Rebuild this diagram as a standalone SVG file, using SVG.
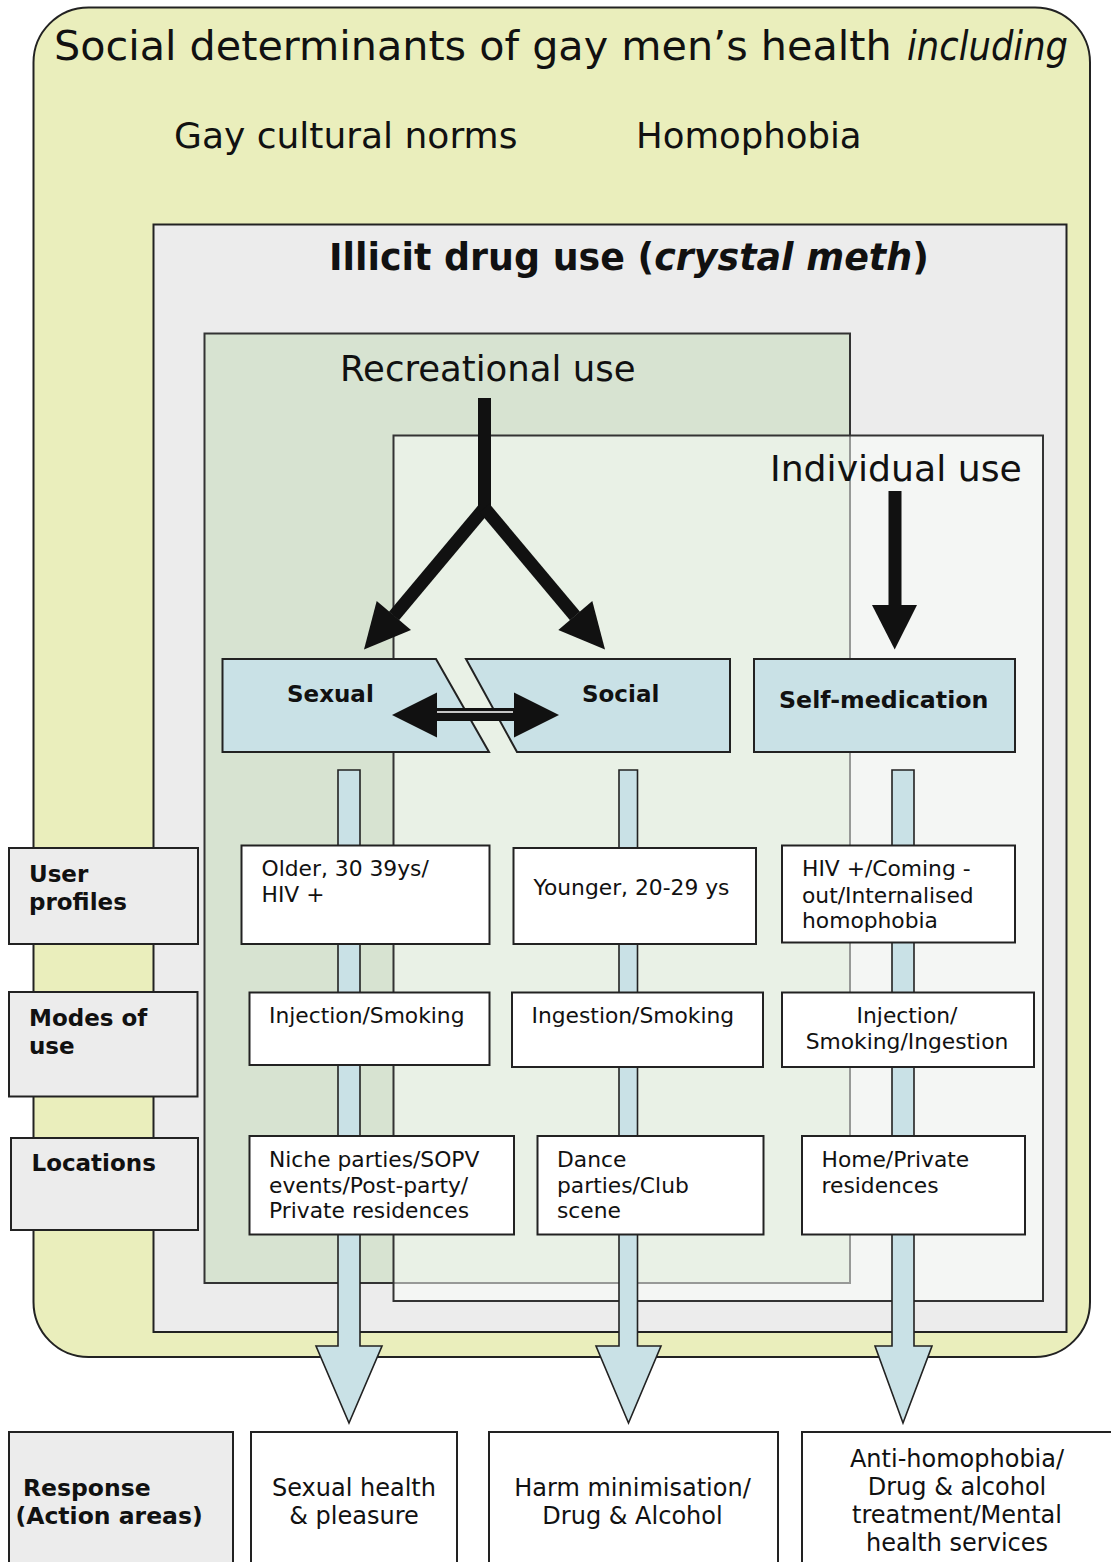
<svg xmlns="http://www.w3.org/2000/svg" width="1111" height="1562" viewBox="0 0 1111 1562">
<style>
text{font-family:"DejaVu Sans",Verdana,sans-serif;fill:#111}
.big{font-size:35.5px}
.lbl{font-size:23px;font-weight:bold}
.box{font-size:21.8px}
.resp{font-size:24px}
.wb{fill:#fff;stroke:#222;stroke-width:2}
.gb{fill:#ececec;stroke:#222;stroke-width:2}
.bb{fill:#c9e1e6;stroke:#222;stroke-width:2}
.flow{fill:#c9e1e6;stroke:#222;stroke-width:1.6;stroke-linejoin:miter}
.blk{fill:#111}
</style>
<rect width="1111" height="1562" fill="#fff"/>
<g id="social-determinants">
<rect x="33.5" y="7.5" width="1056.5" height="1349.5" rx="55" ry="55" fill="#eaeebc" stroke="#222" stroke-width="2"/>
<text x="54" y="60" style="font-size:41.3px">Social determinants of gay men’s health</text>
<text x="907" y="60" style="font-size:41px;font-style:italic" textLength="161" lengthAdjust="spacingAndGlyphs">including</text>
<text x="174" y="148" style="font-size:36px">Gay cultural norms</text>
<text x="636" y="148" style="font-size:35.5px">Homophobia</text>
</g>
<g id="illicit-drug-use">
<rect x="153.5" y="224.5" width="913" height="1107.5" fill="#ececec" stroke="#222" stroke-width="2"/>
<text x="329" y="270" style="font-size:36.4px;font-weight:bold">Illicit drug use (<tspan font-style="italic">crystal meth</tspan>)</text>
</g>
<g id="recreational-use">
<rect x="204.5" y="333.5" width="645.5" height="949.5" fill="#d7e3d1" stroke="#333" stroke-width="2"/>
<text x="340" y="381" class="big">Recreational use</text>
</g>
<g id="individual-use">
<rect x="393.5" y="435.5" width="649.5" height="865.5" fill="#fcfffc" fill-opacity="0.5" stroke="#333" stroke-width="2"/>
<text x="770" y="481" style="font-size:36.2px">Individual use</text>
</g>
<g id="connectors">
<polygon class="flow" points="338,770 360,770 360,1346 382,1346 349,1423 316,1346 338,1346"/>
<polygon class="flow" points="619,770 637.5,770 637.5,1346 661,1346 628.5,1423 596,1346 619,1346"/>
<polygon class="flow" points="892,770 914,770 914,1346 932,1346 903,1423 875,1346 892,1346"/>
<rect class="blk" x="478" y="398" width="13" height="114"/>
<line x1="484.5" y1="508" x2="394" y2="616" stroke="#111" stroke-width="13"/>
<line x1="484.5" y1="508" x2="575" y2="616" stroke="#111" stroke-width="13"/>
<polygon class="blk" points="364,649.5 376.7,601 411,630"/>
<polygon class="blk" points="605,649.5 592.3,601 558.3,630"/>
<rect class="blk" x="888.5" y="491" width="13" height="116"/>
<polygon class="blk" points="872,605 917,605 894.7,649.5"/>
</g>
<g id="sexual">
<polygon class="bb" points="222.5,659 436,659 489,752 222.5,752"/>
<text x="287" y="702" class="lbl">Sexual</text>
</g>
<g id="social">
<polygon class="bb" points="466,659 730,659 730,752 517,752"/>
<text x="582" y="702" class="lbl">Social</text>
</g>
<g id="double-arrow">
<rect class="blk" x="436" y="708" width="78" height="13"/>
<line x1="437" y1="712" x2="513" y2="712" stroke="#fff" stroke-width="1.6"/>
<polygon class="blk" points="392,715 437,692.5 437,737.5"/>
<polygon class="blk" points="559,715 514,692.5 514,737.5"/>
</g>
<g id="self-medication">
<rect class="bb" x="754" y="659" width="261" height="93"/>
<text x="779" y="708" class="lbl" style="font-size:23.7px">Self-medication</text>
</g>
<g id="user-profiles">
<rect class="gb" x="9" y="848" width="189" height="96"/>
<text x="29" y="882" class="lbl">User</text>
<text x="29" y="910" class="lbl">profiles</text>
</g>
<g id="modes-of-use">
<rect class="gb" x="9" y="992" width="188.5" height="104.5"/>
<text x="29" y="1026" class="lbl">Modes of</text>
<text x="29" y="1054" class="lbl">use</text>
</g>
<g id="locations">
<rect class="gb" x="11" y="1138" width="187" height="92"/>
<text x="31.5" y="1171" class="lbl">Locations</text>
</g>
<g id="older">
<rect class="wb" x="241.5" y="845.5" width="248" height="98.5"/>
<text x="261.5" y="876" class="box">Older, 30 39ys/</text>
<text x="261.5" y="902" class="box">HIV +</text>
</g>
<g id="younger">
<rect class="wb" x="513.5" y="848" width="242.5" height="96"/>
<text x="533.5" y="895" class="box">Younger, 20-29 ys</text>
</g>
<g id="hiv-coming-out">
<rect class="wb" x="782" y="845.5" width="233" height="97"/>
<text x="802" y="876" class="box">HIV +/Coming -</text>
<text x="802" y="902.5" class="box">out/Internalised</text>
<text x="802" y="928" class="box">homophobia</text>
</g>
<g id="injection-smoking">
<rect class="wb" x="249.5" y="992.5" width="240" height="72.5"/>
<text x="269" y="1023" class="box">Injection/Smoking</text>
</g>
<g id="ingestion-smoking">
<rect class="wb" x="512" y="992.5" width="251" height="74.5"/>
<text x="531.5" y="1023" class="box">Ingestion/Smoking</text>
</g>
<g id="injection-smoking-ingestion">
<rect class="wb" x="782" y="992.5" width="252" height="74.5"/>
<text x="907" y="1023" class="box" text-anchor="middle">Injection/</text>
<text x="907" y="1049" class="box" text-anchor="middle">Smoking/Ingestion</text>
</g>
<g id="niche-parties">
<rect class="wb" x="249.5" y="1136" width="264.5" height="98.5"/>
<text x="269" y="1166.5" class="box">Niche parties/SOPV</text>
<text x="269" y="1192.5" class="box">events/Post-party/</text>
<text x="269" y="1218" class="box">Private residences</text>
</g>
<g id="dance-parties">
<rect class="wb" x="537.5" y="1136" width="226" height="98.5"/>
<text x="557" y="1166.5" class="box">Dance</text>
<text x="557" y="1192.5" class="box">parties/Club</text>
<text x="557" y="1218" class="box">scene</text>
</g>
<g id="home-private">
<rect class="wb" x="802" y="1136" width="223" height="98.5"/>
<text x="821.5" y="1166.5" class="box">Home/Private</text>
<text x="821.5" y="1192.5" class="box">residences</text>
</g>
<g id="response">
<rect class="gb" x="9" y="1432" width="224" height="150"/>
<text x="23" y="1496" class="lbl" style="font-size:23.5px">Response</text>
<text x="15.5" y="1524" class="lbl" style="font-size:23.5px">(Action areas)</text>
</g>
<g id="sexual-health">
<rect class="wb" x="251" y="1432" width="206" height="150"/>
<text x="354" y="1496" class="resp" text-anchor="middle">Sexual health</text>
<text x="354" y="1524" class="resp" text-anchor="middle">&amp; pleasure</text>
</g>
<g id="harm-minimisation">
<rect class="wb" x="489" y="1432" width="289" height="150"/>
<text x="632.5" y="1496" class="resp" text-anchor="middle">Harm minimisation/</text>
<text x="632.5" y="1524" class="resp" text-anchor="middle">Drug &amp; Alcohol</text>
</g>
<g id="anti-homophobia">
<rect class="wb" x="802" y="1432" width="330" height="150"/>
<text x="957" y="1467" class="resp" text-anchor="middle">Anti-homophobia/</text>
<text x="957" y="1495" class="resp" text-anchor="middle">Drug &amp; alcohol</text>
<text x="957" y="1523" class="resp" text-anchor="middle">treatment/Mental</text>
<text x="957" y="1551" class="resp" text-anchor="middle">health services</text>
</g>
</svg>
